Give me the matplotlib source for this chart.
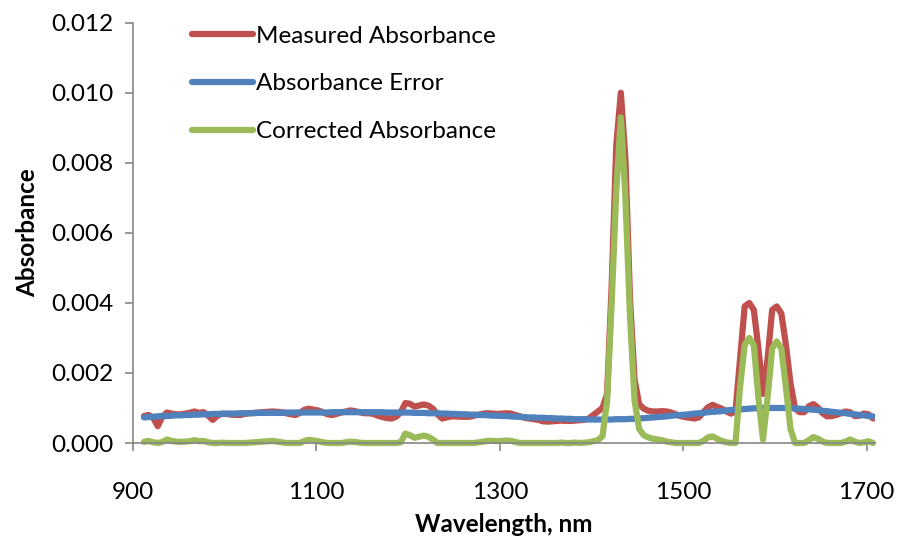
import numpy as np
import matplotlib
matplotlib.use('Agg')
import matplotlib.pyplot as plt

plt.rcParams['font.family'] = ['Lato', 'DejaVu Sans']

# sampling grid, nm
wavelength = np.arange(912, 1708, 5)

measured = [
    0.00077, 0.0008, 0.00072, 0.00048, 0.00075, 0.00087, 0.00084, 0.00082, 0.00082, 0.00084,
    0.00086, 0.0009, 0.00086, 0.00088, 0.00078, 0.00066, 0.00078, 0.00084, 0.00083, 0.00081,
    0.0008, 0.0008, 0.00083, 0.00085, 0.00086, 0.00087, 0.00088, 0.00089, 0.0009, 0.00089,
    0.00088, 0.00085, 0.00082, 0.0008, 0.00086, 0.00095, 0.00098, 0.00095, 0.00093, 0.00088,
    0.00082, 0.0008, 0.00083, 0.00087, 0.0009, 0.00093, 0.00091, 0.00088, 0.00085, 0.00085,
    0.00083, 0.00078, 0.00074, 0.00071, 0.0007, 0.00075, 0.00088, 0.00114, 0.00112, 0.00104,
    0.00107, 0.0011, 0.00107, 0.00098, 0.00082, 0.0007, 0.00073, 0.00076, 0.00076, 0.00075,
    0.00075, 0.00075, 0.00078, 0.00081, 0.00084, 0.00085, 0.00084, 0.00083, 0.00084, 0.00085,
    0.00084, 0.0008, 0.00076, 0.00072, 0.0007, 0.00068, 0.00066, 0.00062, 0.00061, 0.00062,
    0.00063, 0.00064, 0.00063, 0.00063, 0.00064, 0.00065, 0.00066, 0.0007, 0.0008, 0.0009,
    0.001, 0.0014, 0.0045, 0.0085, 0.01, 0.0081, 0.0041, 0.0018, 0.0011, 0.00098,
    0.00092, 0.0009, 0.0009, 0.00091, 0.0009, 0.00087, 0.00082, 0.00077, 0.00074, 0.00072,
    0.0007, 0.00073, 0.00088, 0.00102, 0.00109, 0.00103, 0.00098, 0.0009, 0.00084, 0.0009,
    0.0024, 0.0039, 0.004, 0.0038, 0.0027, 0.0014, 0.0024, 0.0038, 0.0039, 0.0037,
    0.0028, 0.0017, 0.00098, 0.00088, 0.00088, 0.00105, 0.00111, 0.00101, 0.00085, 0.00076,
    0.00077, 0.0008, 0.00085, 0.0009, 0.00088, 0.00077, 0.00078, 0.00084, 0.00082, 0.0007,
]

error = [
    0.00073, 0.00074, 0.00075, 0.00076, 0.00077, 0.00077, 0.00078, 0.00079, 0.00079, 0.0008,
    0.0008, 0.00081, 0.00081, 0.00082, 0.00082, 0.00083, 0.00083, 0.00083, 0.00084, 0.00084,
    0.00084, 0.00085, 0.00085, 0.00085, 0.00085, 0.00086, 0.00086, 0.00086, 0.00086, 0.00086,
    0.00086, 0.00087, 0.00087, 0.00087, 0.00087, 0.00087, 0.00087, 0.00087, 0.00087, 0.00087,
    0.00087, 0.00088, 0.00088, 0.00088, 0.00088, 0.00088, 0.00088, 0.00088, 0.00088, 0.00088,
    0.00088, 0.00088, 0.00088, 0.00087, 0.00087, 0.00087, 0.00087, 0.00087, 0.00087, 0.00086,
    0.00086, 0.00086, 0.00085, 0.00085, 0.00085, 0.00084, 0.00084, 0.00083, 0.00083, 0.00082,
    0.00082, 0.00081, 0.00081, 0.0008, 0.0008, 0.00079, 0.00078, 0.00078, 0.00077, 0.00077,
    0.00076, 0.00075, 0.00075, 0.00074, 0.00073, 0.00073, 0.00072, 0.00072, 0.00071, 0.00071,
    0.0007, 0.0007, 0.00069, 0.00069, 0.00068, 0.00068, 0.00068, 0.00067, 0.00067, 0.00067,
    0.00067, 0.00067, 0.00067, 0.00068, 0.00068, 0.00068, 0.00069, 0.00069, 0.0007, 0.00071,
    0.00072, 0.00073, 0.00074, 0.00075, 0.00076, 0.00078, 0.00079, 0.0008, 0.00081, 0.00082,
    0.00084, 0.00085, 0.00086, 0.00088, 0.00089, 0.0009, 0.00091, 0.00093, 0.00094, 0.00095,
    0.00096, 0.00097, 0.00098, 0.00099, 0.00099, 0.001, 0.001, 0.001, 0.001, 0.001,
    0.001, 0.00099, 0.00099, 0.00098, 0.00097, 0.00096, 0.00095, 0.00094, 0.00092, 0.00091,
    0.00089, 0.00088, 0.00086, 0.00085, 0.00083, 0.00082, 0.0008, 0.00079, 0.00077, 0.00076,
]

corrected = [
    0.00003, 0.00006, 0.00002, 0.0, 0.00003, 0.0001, 0.00006, 0.00004, 0.00003, 0.00004,
    0.00005, 0.00008, 0.00005, 0.00006, 0.00002, 0.0, 0.0, 0.00001, 0.0, 0.0,
    0.0, 0.0, 0.0, 0.00001, 0.00002, 0.00003, 0.00004, 0.00005, 0.00006, 0.00004,
    0.00002, 0.0, 0.0, 0.0, 0.0, 0.00006, 0.00009, 0.00007, 0.00005, 0.00002,
    0.0, 0.0, 0.0, 0.0, 0.00002, 0.00004, 0.00003, 0.00001, 0.0, 0.0,
    0.0, 0.0, 0.0, 0.0, 0.0, 0.0, 0.00002, 0.00027, 0.00022, 0.00015,
    0.00018, 0.00021, 0.00018, 0.0001, 0.0, 0.0, 0.0, 0.0, 0.0, 0.0,
    0.0, 0.0, 0.0, 0.00002, 0.00004, 0.00006, 0.00006, 0.00005, 0.00006, 0.00007,
    0.00006, 0.00003, 0.0, 0.0, 0.0, 0.0, 0.0, 0.0, 0.0, 0.0,
    0.0, 0.00001, 0.0, 0.0, 0.00001, 0.0, 0.00001, 0.00002, 0.00005, 0.00008,
    0.0002, 0.0012, 0.004, 0.0072, 0.0093, 0.007, 0.0036, 0.0012, 0.0004, 0.00022,
    0.00016, 0.00012, 0.0001, 0.00008, 0.00004, 0.00002, 0.0, 0.0, 0.0, 0.0,
    0.0, 0.0, 0.00006, 0.00016, 0.00019, 0.00012, 0.00006, 0.00002, 0.0, 0.0,
    0.0016, 0.0028, 0.003, 0.0028, 0.0013, 0.0001, 0.0013, 0.0027, 0.0029, 0.0027,
    0.0016, 0.0004, 0.0, 0.0, 0.0, 0.00008, 0.00017, 0.00012, 0.00004, 0.0,
    0.0, 0.0, 0.0, 0.00004, 0.0001, 0.00004, 0.0, 0.00002, 0.00005, 0.0,
]

fig = plt.figure(figsize=(9.01, 5.36), dpi=100)
ax = fig.add_axes([0.1476, 0.1735, 0.8234, 0.7841])

ax.plot(wavelength, measured, color='#C0504D', lw=4.5, solid_joinstyle='round',
        solid_capstyle='round', label='Measured Absorbance')
ax.plot(wavelength, error, color='#4F81BD', lw=4.5, solid_joinstyle='round',
        solid_capstyle='round', label='Absorbance Error')
ax.plot(wavelength, corrected, color='#9BBB59', lw=4.5, solid_joinstyle='round',
        solid_capstyle='round', label='Corrected Absorbance', clip_on=False)

ax.set_xlim(900, 1709)
ax.set_ylim(0, 0.012)
ax.set_xticks([900, 1100, 1300, 1500, 1700])
ax.set_yticks(np.arange(0, 0.0121, 0.002))
ax.set_yticklabels(['%.3f' % v for v in np.arange(0, 0.0121, 0.002)])

for s in ['top', 'right']:
    ax.spines[s].set_visible(False)
for s in ['left', 'bottom']:
    ax.spines[s].set_color('#868686')
    ax.spines[s].set_linewidth(1.2)
ax.tick_params(direction='out', length=6, width=1.2, color='#868686',
               labelsize=17.5, labelcolor='black')
ax.tick_params(axis='y', pad=8)
ax.tick_params(axis='x', pad=22)

ax.set_xlabel('Wavelength, nm', fontsize=17.5, fontweight='bold', labelpad=7)
ax.set_ylabel('Absorbance', fontsize=17.5, fontweight='bold', labelpad=9)

leg = ax.legend(loc='upper left', bbox_to_anchor=(0.05, 1.045), frameon=False,
                fontsize=17.5, handlelength=2.5, handletextpad=0.12,
                labelspacing=1.1)

fig.savefig('out.png', dpi=100)
